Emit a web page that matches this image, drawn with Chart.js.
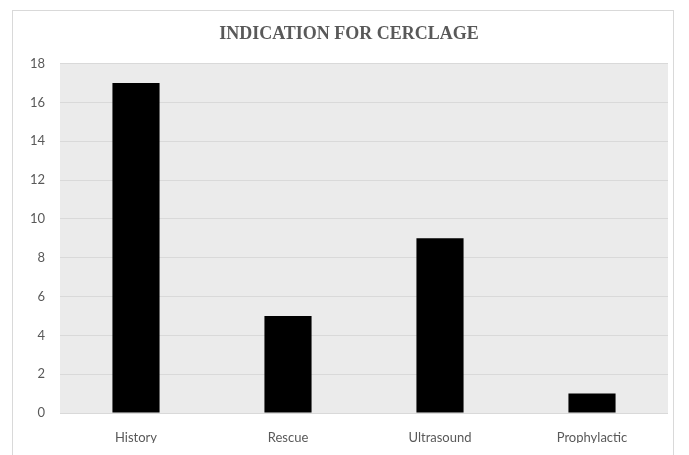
<!DOCTYPE html>
<html>
<head>
<meta charset="utf-8">
<script src="https://cdn.jsdelivr.net/npm/chart.js@4.4.0/dist/chart.umd.min.js"></script>
<style>
  html, body { margin: 0; padding: 0; background: #fff; }
  #frame { position: absolute; left: 12px; top: 10px; width: 662px; height: 470px; border: 1px solid #d9d9d9; box-sizing: border-box; }
  #wrap { position: absolute; left: 0; top: 0; width: 689px; height: 455px; }
</style>
</head>
<body>
<div id="frame"></div>
<div id="wrap"><canvas id="chart"></canvas></div>
<script>
// Chart values
const categories = ["History", "Rescue", "Ultrasound", "Prophylactic"];
const counts = [17, 5, 9, 1];
const yMax = 18;
const yStep = 2;

// Grey plot background
const plotBackground = {
  id: "plotBackground",
  beforeDraw(chart) {
    const { ctx, chartArea } = chart;
    ctx.save();
    ctx.fillStyle = "#ebebeb";
    ctx.fillRect(chartArea.left, chartArea.top, chartArea.right - chartArea.left, chartArea.bottom - chartArea.top);
    ctx.restore();
  }
};

const ctx = document.getElementById("chart").getContext("2d");

new Chart(ctx, {
  type: "bar",
  data: {
    labels: categories,
    datasets: [
      {
        label: "Indication",
        data: counts,
        backgroundColor: "#000000",
        barPercentage: 0.31,
        categoryPercentage: 1.0,
      },
    ],
  },
  options: {
    responsive: true,
    maintainAspectRatio: false,
    animation: false,
    layout: { padding: { left: 30, right: 21, top: 0, bottom: 12 } },
    plugins: {
      legend: { display: false },
      tooltip: { enabled: false },
      title: {
        display: true,
        text: "INDICATION FOR CERCLAGE",
        color: "#595959",
        font: { family: "Liberation Serif", size: 18, weight: "bold" },
        padding: { top: 24, bottom: 18 },
      },
    },
    scales: {
      x: {
        grid: { display: false, drawTicks: false },
        border: { display: false },
        ticks: {
          color: "#595959",
          font: { family: "Lato", size: 13 },
          padding: 17,
        },
        afterFit(scale) { scale.height = 30; },
      },
      y: {
        min: 0,
        max: yMax,
        grid: { color: "#d9d9d9", drawTicks: false },
        border: { display: false },
        ticks: {
          stepSize: yStep,
          color: "#595959",
          font: { family: "Lato", size: 13 },
          padding: 15,
        },
        afterFit(scale) { scale.width = 30; },
      },
    },
  },
  plugins: [plotBackground],
});
</script>
</body>
</html>
